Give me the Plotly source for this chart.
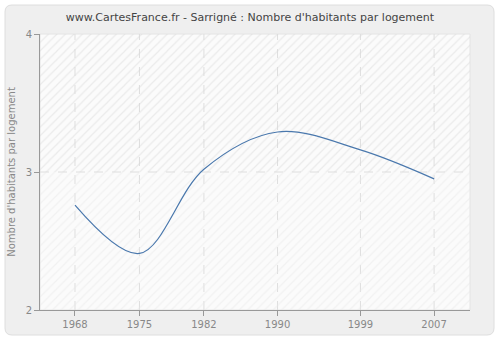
import plotly.graph_objects as go

# Census years and average number of inhabitants per dwelling
years = [1968, 1975, 1982, 1990, 1999, 2007]
habitants_par_logement = [2.76, 2.41, 3.02, 3.29, 3.16, 2.95]
y_ticks = [2, 3, 4]

W, H = 500, 340
L, R, T, B = 40, 30, 34, 30
x_range = [1964.2, 2010.9]
y_range = [2, 4]

fig = go.Figure()

# hatched plot background: stronger above 3, fainter below (transparent gaps
# let the dashed grid underneath show through)
clear = "rgba(0,0,0,0)"
for lo, hi, fg in [(3, 4, "#dadada"), (2, 3, "#e8e8e8")]:
    fig.add_trace(go.Scatter(
        x=[x_range[0], x_range[1], x_range[1], x_range[0], x_range[0]],
        y=[lo, lo, hi, hi, lo],
        mode="lines", line=dict(width=0), fill="toself",
        fillcolor=clear,
        fillpattern=dict(shape="/", fgcolor=fg, bgcolor=clear, size=6, solidity=0.2),
        hoverinfo="skip", showlegend=False,
    ))

fig.add_trace(go.Scatter(
    x=years, y=habitants_par_logement, mode="lines",
    line=dict(color="#4a78ad", width=1.2, shape="spline", smoothing=1.0),
    showlegend=False,
))

# rounded outer frame, in paper coordinates
pw, ph = W - L - R, H - T - B
def px(x): return (x - L) / pw
def py(y): return (H - B - y) / ph
x0, x1, y0, y1, r = 5, 494, 5, 335, 7
path = (f"M {px(x0 + r)} {py(y0)} L {px(x1 - r)} {py(y0)} "
        f"Q {px(x1)} {py(y0)} {px(x1)} {py(y0 + r)} L {px(x1)} {py(y1 - r)} "
        f"Q {px(x1)} {py(y1)} {px(x1 - r)} {py(y1)} L {px(x0 + r)} {py(y1)} "
        f"Q {px(x0)} {py(y1)} {px(x0)} {py(y1 - r)} L {px(x0)} {py(y0 + r)} "
        f"Q {px(x0)} {py(y0)} {px(x0 + r)} {py(y0)} Z")
fig.add_shape(type="path", path=path, xref="paper", yref="paper",
              fillcolor="#efefef", line=dict(color="#dedede", width=1), layer="below")
fig.add_shape(type="rect", xref="paper", yref="paper", x0=0, x1=1, y0=0, y1=1,
              fillcolor="#fbfbfb", line=dict(color="#e4e4e4", width=1), layer="below")

# dashed grid, drawn after the plot-area fill
grid = dict(color="#dedede", width=1, dash="dash")
for yr in years:
    fig.add_shape(type="line", xref="x", yref="paper", x0=yr, x1=yr, y0=0, y1=1,
                  line=grid, layer="below")
for v in y_ticks[1:-1]:
    fig.add_shape(type="line", xref="paper", yref="y", x0=0, x1=1, y0=v, y1=v,
                  line=grid, layer="below")

font = "DejaVu Sans"
fig.update_layout(
    width=W, height=H,
    margin=dict(l=L, r=R, t=T, b=B),
    paper_bgcolor="white", plot_bgcolor="#fbfbfb",
    title=dict(text="www.CartesFrance.fr - Sarrigné : Nombre d'habitants par logement",
               x=0.5, xref="container", xanchor="center", y=1 - 17 / H, yanchor="middle",
               font=dict(family=font, size=11, color="#444")),
    xaxis=dict(range=x_range, tickvals=years, ticktext=[str(v) for v in years],
               showgrid=False, automargin=False,
               showline=True, linecolor="#999", linewidth=1,
               ticks="outside", ticklen=5, tickcolor="#999",
               tickfont=dict(family=font, size=10, color="#888"), zeroline=False),
    yaxis=dict(range=y_range, tickvals=y_ticks, showgrid=False, automargin=False,
               showline=True, linecolor="#999", linewidth=1,
               ticks="outside", ticklen=5, tickcolor="#999",
               tickfont=dict(family=font, size=10, color="#888"), zeroline=False,
               title=dict(text="Nombre d'habitants par logement", standoff=8,
                          font=dict(family=font, size=10, color="#888"))),
)

fig.write_html("out.html")
